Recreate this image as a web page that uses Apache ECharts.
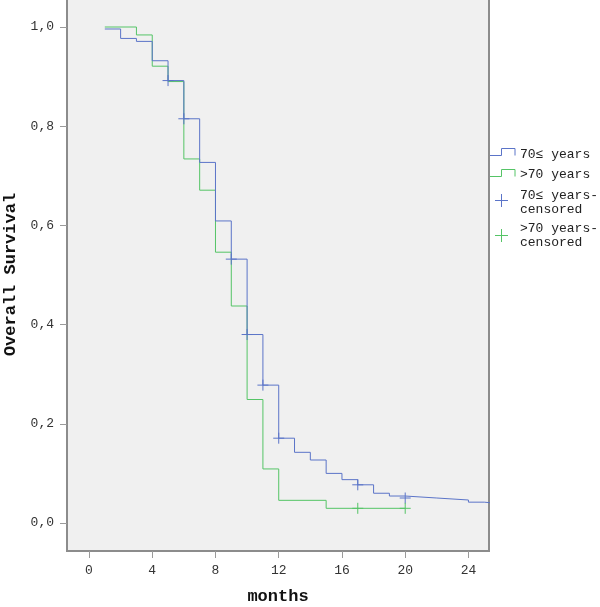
<!DOCTYPE html>
<html><head><meta charset="utf-8">
<script src="https://cdn.jsdelivr.net/npm/echarts@6/dist/echarts.min.js"></script>
<style>html,body{margin:0;padding:0;background:#fff}#c{width:600px;height:607px}</style>
</head><body><div id="c"></div>
<script>
// Kaplan-Meier steps: survival after each event time (months)
const blueTimes    = [1, 2, 3, 4, 5, 6, 7, 8, 9, 10, 11, 12, 13, 14, 15, 16, 17, 18, 19, 20, 22, 24, 25, 26];
const blueSurvival = [0.996, 0.977, 0.971, 0.932, 0.892, 0.815, 0.727, 0.609, 0.532, 0.380, 0.278, 0.171, 0.1425, 0.127, 0.100, 0.0874, 0.077, 0.060, 0.0544, 0.0504, 0.0464, 0.042, 0.039, 0.039];
const greenTimes    = [1, 3, 4, 5, 6, 7, 8, 9, 10, 11, 12, 15, 20];
const greenSurvival = [1.0, 0.984, 0.921, 0.890, 0.734, 0.671, 0.546, 0.4375, 0.249, 0.109, 0.0457, 0.0296, 0.0296];
const blueCensorTimes    = [5, 6, 9, 10, 11, 12, 17, 20];
const blueCensorSurvival = [0.892, 0.815, 0.532, 0.380, 0.278, 0.171, 0.077, 0.0504];
const greenCensorTimes    = [17, 20];
const greenCensorSurvival = [0.0296, 0.0296];
const xTicks = [0, 4, 8, 12, 16, 20, 24];
const yTicks = [0, 0.2, 0.4, 0.6, 0.8, 1.0];
const seriesNames = ['70\u2264 years', '>70 years', '70\u2264 years-\ncensored', '>70 years-\ncensored'];
const xTitle = 'months';
const yTitle = 'Overall Survival';

const BLUE = '#5b74c8', GREEN = '#55c466';
const FONT = 'Liberation Mono';
const zip = (a, b) => a.map((v, i) => [v, b[i]]);
const plus = 'path://M5,0L5,10M0,5L10,5';

const chart = echarts.init(document.getElementById('c'), null, {renderer: 'canvas'});
chart.setOption({
  animation: false,
  backgroundColor: '#ffffff',
  grid: {left: 67, right: 111, top: -2, bottom: 56, show: true, containLabel: false,
         outerBoundsMode: 'none',
         backgroundColor: '#f0f0f0', borderColor: '#8c8c8c', borderWidth: 2},
  xAxis: {
    type: 'value', min: -1.391, max: 25.30,
    name: xTitle, nameLocation: 'middle', nameGap: 37,
    nameTextStyle: {fontFamily: FONT, fontWeight: 'bold', fontSize: 17, color: '#111'},
    axisLine: {show: false, onZero: false},
    axisTick: {show: true, length: 7, customValues: xTicks, lineStyle: {color: '#9a9a9a'}},
    axisLabel: {customValues: xTicks, margin: 13, fontFamily: FONT, fontSize: 13, color: '#333'},
    splitLine: {show: false}
  },
  yAxis: {
    type: 'value', min: -0.05645, max: 1.0585,
    name: yTitle, nameLocation: 'middle', nameGap: 46, nameRotate: 90,
    nameTextStyle: {fontFamily: FONT, fontWeight: 'bold', fontSize: 17, color: '#111'},
    axisLine: {show: false, onZero: false},
    axisTick: {show: true, length: 7, customValues: yTicks, lineStyle: {color: '#9a9a9a'}},
    axisLabel: {customValues: yTicks, margin: 13, fontFamily: FONT, fontSize: 13, color: '#333',
      formatter: v => v.toFixed(1).replace('.', ',')},
    splitLine: {show: false}
  },
  series: [
    {name: seriesNames[0], type: 'line', step: 'end', data: zip(blueTimes, blueSurvival),
     showSymbol: false, lineStyle: {color: BLUE, width: 1}, itemStyle: {color: BLUE}, z: 3},
    {name: seriesNames[1], type: 'line', step: 'end', data: zip(greenTimes, greenSurvival),
     showSymbol: false, lineStyle: {color: GREEN, width: 1}, itemStyle: {color: GREEN}, z: 2},
    {name: seriesNames[2], type: 'scatter', data: zip(blueCensorTimes, blueCensorSurvival),
     symbol: plus, symbolSize: 11, itemStyle: {color: 'none', borderColor: BLUE, borderWidth: 1, opacity: 1}, z: 4},
    {name: seriesNames[3], type: 'scatter', data: zip(greenCensorTimes, greenCensorSurvival),
     symbol: plus, symbolSize: 11, itemStyle: {color: 'none', borderColor: GREEN, borderWidth: 1, opacity: 1}, z: 4}
  ],
  graphic: [
    {type: 'polyline', shape: {points: [[490,155.5],[501.5,155.5],[501.5,148.5],[515,148.5],[515,155.5]]},
     style: {stroke: BLUE, lineWidth: 1, fill: null}},
    {type: 'polyline', shape: {points: [[490,176.5],[501.5,176.5],[501.5,169.5],[515,169.5],[515,176.5]]},
     style: {stroke: GREEN, lineWidth: 1, fill: null}},
    {type: 'group', children: [
      {type: 'line', shape: {x1: 495, y1: 200.5, x2: 508, y2: 200.5}, style: {stroke: BLUE, lineWidth: 1}},
      {type: 'line', shape: {x1: 501.5, y1: 194, x2: 501.5, y2: 207}, style: {stroke: BLUE, lineWidth: 1}},
      {type: 'line', shape: {x1: 495, y1: 235.5, x2: 508, y2: 235.5}, style: {stroke: GREEN, lineWidth: 1}},
      {type: 'line', shape: {x1: 501.5, y1: 229, x2: 501.5, y2: 242}, style: {stroke: GREEN, lineWidth: 1}}
    ]},
    {type: 'text', x: 520, y: 155, style: {text: seriesNames[0], font: '13px "Liberation Mono"', fill: '#222', verticalAlign: 'middle'}},
    {type: 'text', x: 520, y: 175, style: {text: seriesNames[1], font: '13px "Liberation Mono"', fill: '#222', verticalAlign: 'middle'}},
    {type: 'text', x: 520, y: 202.5, style: {text: seriesNames[2], font: '13px "Liberation Mono"', lineHeight: 13.5, fill: '#222', verticalAlign: 'middle'}},
    {type: 'text', x: 520, y: 235.5, style: {text: seriesNames[3], font: '13px "Liberation Mono"', lineHeight: 13.5, fill: '#222', verticalAlign: 'middle'}}
  ]
});
</script>
</body></html>
